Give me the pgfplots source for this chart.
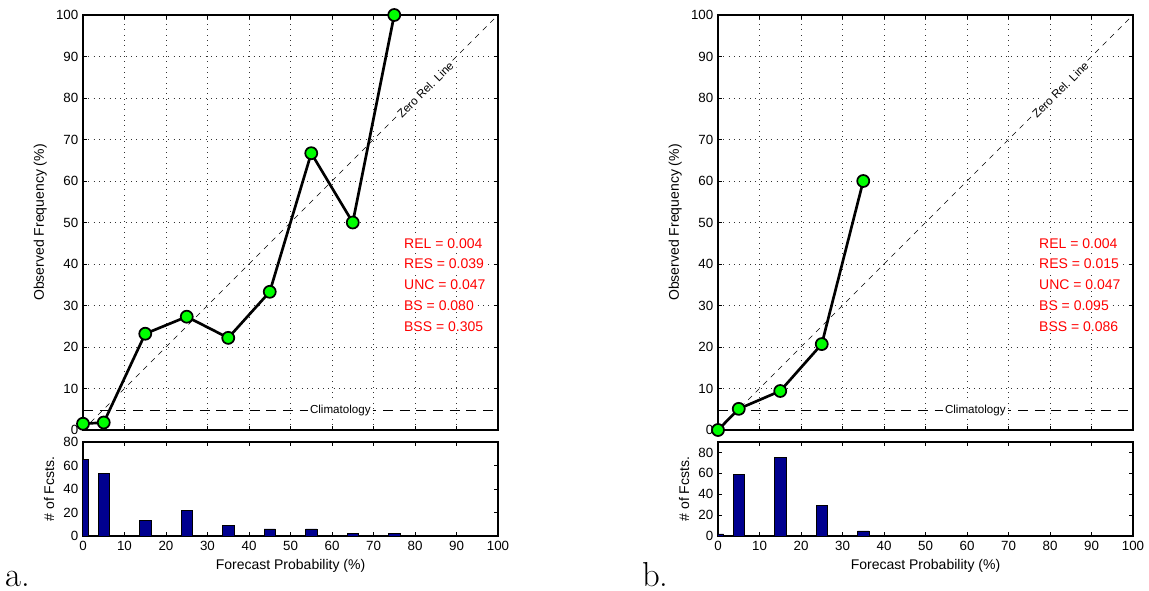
\documentclass[border=0pt]{standalone}
\usepackage{fontspec}
\usepackage{pgfplots}
\pgfplotsset{compat=1.18}
\newfontfamily\hv{Liberation Sans}
\definecolor{mgreen}{RGB}{0,255,0}
\definecolor{mnavy}{RGB}{0,0,143}
\definecolor{mred}{RGB}{255,0,0}
\tikzset{
  statlab/.style={anchor=west, inner sep=1pt, fill=white, text=mred, font=\hv\fontsize{10.5}{12}\selectfont},
  smalllab/.style={font=\hv\fontsize{8.7}{10}\selectfont, fill=white, inner sep=1.5pt}
}
\pgfplotsset{
  mbase/.style={scale only axis, width=311.25pt, anchor=south west,
    xmin=0, xmax=100, ymin=0, tick align=inside, tick pos=both,
    axis line style={line width=1pt}, major tick length=3pt,
    tick style={black, line width=0.6pt},
    every tick label/.append style={font=\hv\fontsize{10}{12}\selectfont},
    /pgf/number format/assume math mode=true,
    label style={font=\hv\fontsize{10.5}{12}\selectfont},
    xtick={0,10,...,100}},
  main/.style={mbase, height=311.25pt, ymax=100, ytick={0,10,...,100},
    xticklabels={}, grid=major,
    major grid style={black!80, line width=0.6pt, dash pattern=on 0.6pt off 3.4pt},
    ylabel={Observed Frequency (\%)}},
  hist/.style={mbase, height=70.5pt, xlabel={Forecast Probability (\%)},
    ylabel={\# of Fcsts.}, ytick={0,20,...,80}},
  rel/.style={black, line width=2pt, mark=*, mark size=4.5pt,
    mark options={fill=mgreen, draw=black, line width=1.3pt, solid}},
  bars/.style={ybar, bar width=2.7, bar shift=0pt, fill=mnavy, draw=black, line width=0.4pt}
}
\begin{document}
\begin{tikzpicture}
\path[use as bounding box] (0,0) rectangle (861.75pt,442.5pt);
% ---------- panel a ----------
\begin{axis}[main, at={(62.25pt,120pt)}]
  \addplot[black, line width=0.5pt, dash pattern=on 4pt off 4pt] coordinates {(0,0) (100,100)};
  \addplot[black, line width=0.6pt, dash pattern=on 7.5pt off 5pt] coordinates {(0,4.7) (100,4.7)};
  \node[smalllab, rotate=45] at (axis cs:82.5,82) {Zero Rel. Line};
  \node[smalllab] at (axis cs:62,4.7) {Climatology};
  \addplot[rel] coordinates {(0,1.5) (5,1.8) (15,23.2) (25,27.3) (35,22.2) (45,33.3) (55,66.7) (65,50) (75,100)};
  \node[statlab] at (axis cs:77,45) {REL = 0.004};
  \node[statlab] at (axis cs:77,40) {RES = 0.039};
  \node[statlab] at (axis cs:77,35) {UNC = 0.047};
  \node[statlab] at (axis cs:77,30) {BS = 0.080};
  \node[statlab] at (axis cs:77,25) {BSS = 0.305};
\end{axis}
\begin{axis}[hist, at={(62.25pt,40.5pt)}, ymax=80]
  \addplot[bars] coordinates {(0,65) (5,53) (15,13) (25,22) (35,9) (45,6) (55,6) (65,2) (75,2)};
\end{axis}
% ---------- panel b ----------
\begin{axis}[main, at={(538.5pt,120pt)}]
  \addplot[black, line width=0.5pt, dash pattern=on 4pt off 4pt] coordinates {(0,0) (100,100)};
  \addplot[black, line width=0.6pt, dash pattern=on 7.5pt off 5pt] coordinates {(0,4.7) (100,4.7)};
  \node[smalllab, rotate=45] at (axis cs:82.5,82) {Zero Rel. Line};
  \node[smalllab] at (axis cs:62,4.7) {Climatology};
  \addplot[rel] coordinates {(0,0) (5,5.1) (15,9.4) (25,20.7) (35,60)};
  \node[statlab] at (axis cs:77,45) {REL = 0.004};
  \node[statlab] at (axis cs:77,40) {RES = 0.015};
  \node[statlab] at (axis cs:77,35) {UNC = 0.047};
  \node[statlab] at (axis cs:77,30) {BS = 0.095};
  \node[statlab] at (axis cs:77,25) {BSS = 0.086};
\end{axis}
\begin{axis}[hist, at={(538.5pt,40.5pt)}, ymax=90]
  \addplot[bars] coordinates {(0,2) (5,59) (15,75) (25,29) (35,5)};
\end{axis}
\node[anchor=base west, inner sep=0pt, font=\fontsize{26}{30}\selectfont] at (3.75pt,3pt) {a.};
\node[anchor=base west, inner sep=0pt, font=\fontsize{26}{30}\selectfont] at (481.5pt,3pt) {b.};
\end{tikzpicture}
\end{document}
